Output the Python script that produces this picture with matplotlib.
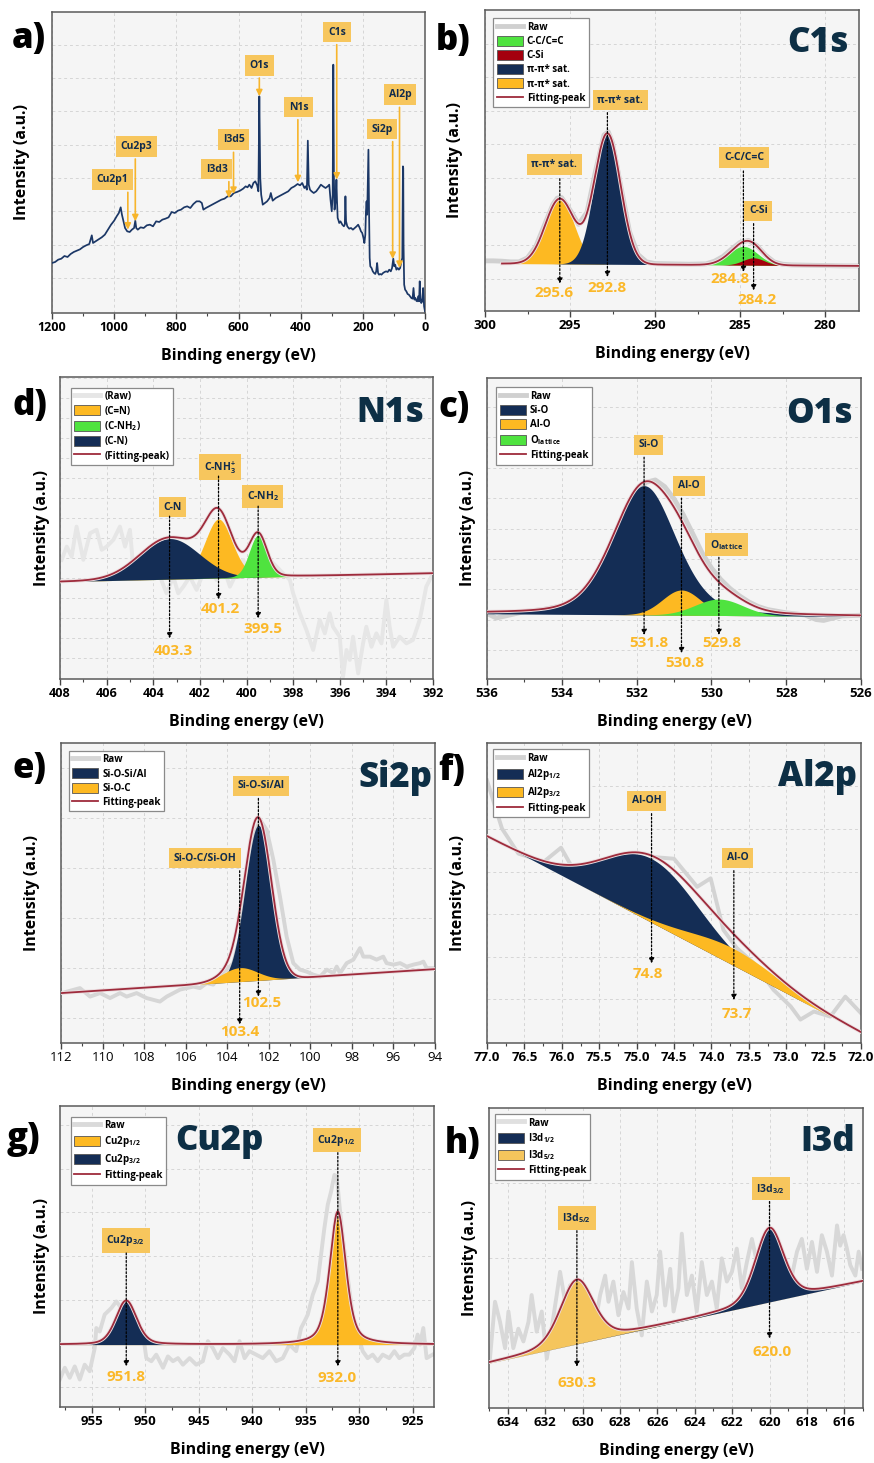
import numpy as np
import matplotlib
matplotlib.use('Agg')
import matplotlib.pyplot as plt
from matplotlib.lines import Line2D
from matplotlib.patches import Patch
from matplotlib.ticker import MultipleLocator, FormatStrFormatter
import matplotlib.patheffects as pe

plt.rcParams['font.family'] = ['Open Sans', 'DejaVu Sans']
plt.rcParams['mathtext.fontset'] = 'custom'
plt.rcParams['mathtext.rm'] = 'Open Sans'
plt.rcParams['mathtext.bf'] = 'Open Sans:bold'
plt.rcParams['mathtext.it'] = 'Open Sans:italic'

W, H = 874, 1463

NAVY = '#142d55'
YELLOW = '#fdb922'
LIGHT_YELLOW = '#f5c55c'
GREEN = '#4fe33f'
RED = '#a4000e'
FIT = '#9e2b3c'
BOX = '#f7c65d'
BOX_TEXT = '#102b4c'
VALUE = '#fbb829'
TITLE = '#0d2f45'
SURVEY = '#1b3766'

# ---------------- (a) survey spectrum ----------------
survey_be = [1200, 1190, 1180, 1170, 1160, 1150, 1140, 1130, 1120, 1110,
             1100, 1090, 1080, 1072, 1068, 1060, 1050, 1040, 1030, 1020,
             1010, 1000, 992, 985, 979, 975, 970, 965, 958, 950,
             943, 936, 932, 929, 924, 915, 905, 895, 885, 875,
             865, 855, 845, 835, 825, 815, 805, 795, 785, 775,
             765, 755, 745, 735, 725, 718, 713, 705, 695, 685,
             675, 665, 655, 645, 635, 625, 615, 605, 595, 585,
             577, 571, 565, 558, 552, 546, 540, 536, 533, 530,
             527, 522, 515, 508, 500, 496, 490, 480, 470, 460,
             450, 440, 430, 420, 410, 402, 395, 388, 384, 380,
             377, 374, 370, 365, 358, 350, 342, 335, 328, 320,
             313, 308, 304, 300, 297, 295, 293, 291, 289, 287,
             285, 283, 281, 279, 276, 272, 266, 261, 258, 256,
             254, 250, 244, 238, 232, 226, 220, 215, 210, 206,
             202, 198, 195, 192, 190, 188, 186, 184, 182, 180,
             178, 176, 172, 168, 164, 160, 157, 154, 151, 148,
             144, 140, 135, 130, 125, 120, 115, 110, 106, 102,
             99, 96, 92, 88, 84, 80, 76, 73, 71, 70,
             69, 67, 64, 60, 56, 52, 48, 44, 40, 37,
             34, 31, 28, 25, 22, 19, 17, 15, 12, 9,
             6, 3, 0]
survey_int = [0.45, 0.48, 0.55, 0.58, 0.66, 0.63, 0.72, 0.78, 0.82, 0.86,
              0.93, 0.98, 1.02, 1.28, 1.05, 1.10, 1.16, 1.22, 1.30, 1.45,
              1.60, 1.72, 1.85, 1.95, 2.12, 1.90, 1.70, 1.50, 1.40, 1.38,
              1.45, 1.50, 1.72, 1.50, 1.45, 1.52, 1.50, 1.58, 1.60, 1.55,
              1.70, 1.68, 1.75, 1.78, 1.82, 1.98, 1.95, 2.02, 2.05, 2.12,
              2.15, 2.10, 2.22, 2.30, 2.30, 2.25, 2.05, 2.10, 2.15, 2.20,
              2.25, 2.30, 2.35, 2.38, 2.45, 2.45, 2.55, 2.58, 2.62, 2.68,
              2.75, 2.72, 2.80, 2.70, 2.85, 2.90, 2.78, 2.60, 5.45, 3.00,
              2.50, 2.20, 2.25, 2.30, 2.40, 2.55, 2.32, 2.40, 2.45, 2.50,
              2.55, 2.60, 2.70, 2.75, 2.82, 2.78, 2.85, 2.70, 2.75, 2.65,
              4.12, 2.80, 2.65, 2.60, 2.55, 2.60, 2.70, 2.80, 2.75, 2.70,
              2.75, 2.80, 2.35, 2.00, 2.50, 6.40, 3.00, 2.05, 2.20, 2.40,
              2.95, 2.30, 1.80, 1.75, 1.65, 1.70, 1.60, 1.55, 1.60, 2.45,
              1.70, 1.55, 1.48, 1.50, 1.45, 1.50, 1.55, 1.60, 1.50, 1.40,
              1.35, 1.20, 1.05, 1.30, 2.00, 2.30, 1.90, 2.80, 3.85, 2.00,
              0.60, 0.35, 0.30, 0.20, 0.15, 0.12, 0.20, 0.45, 0.15, 0.10,
              0.12, 0.10, 0.15, 0.18, 0.20, 0.18, 0.25, 0.20, 0.30, 0.58,
              0.35, 0.40, 0.25, 0.30, 0.25, 0.30, 0.50, 0.60, 3.35, 3.30,
              1.00, -0.20, -0.35, -0.40, -0.48, -0.50, -0.55, -0.60, -0.62, -0.30,
              -0.65, -0.60, -0.68, -0.70, -0.55, -0.70, -0.10, -0.60, -0.75, -0.70,
              -0.30, -0.85, -1.00]
survey_labels = ['Cu2p1', 'Cu2p3', 'I3d3', 'I3d5', 'O1s', 'N1s', 'C1s', 'Si2p', 'Al2p']
survey_box_x = [1005, 929, 670, 616, 533, 407, 283, 138, 80]
survey_box_y = [2.95, 3.95, 3.27, 4.15, 6.38, 5.13, 7.38, 4.47, 5.50]
survey_arrow_x = [956, 932, 631, 616, 533, 409, 284, 104, 82]
survey_arrow_tip = [1.45, 1.70, 2.40, 2.52, 5.45, 2.87, 2.95, 0.57, 0.30]

# ---------------- (b) C1s ----------------
b_raw_be = [300, 299.5, 299, 298.5, 298, 297.5, 297, 296.5, 296, 295.75,
            295.5, 295, 294.5, 294, 293.5, 293, 292.75, 292.5, 292, 291.5,
            291, 290.5, 290, 289, 288, 287, 286.5, 286, 285.5, 285,
            284.5, 284, 283.5, 283, 282.5, 282, 281, 280, 279, 278]
b_raw_int = [0.53, 0.53, 0.52, 0.50, 0.50, 0.62, 0.97, 1.60, 2.22, 2.40,
             2.42, 2.05, 1.62, 1.98, 3.20, 4.28, 4.38, 4.05, 2.72, 1.40,
             0.72, 0.50, 0.45, 0.44, 0.43, 0.44, 0.52, 0.66, 0.88, 1.08,
             1.14, 0.98, 0.70, 0.50, 0.43, 0.41, 0.40, 0.39, 0.38, 0.38]
b_range = [299.0, 278.0]
b_base = [0.45, 0.38]
b_centers = [295.6, 292.8, 284.8, 284.2]
b_heights = [1.94, 3.90, 0.56, 0.22]
b_fwhm = [2.0, 1.84, 2.0, 1.5]
b_eta = [0.0, 0.0, 0.0, 0.0]
b_names = ['π-π* sat.', 'π-π* sat.', 'C-C/C=C', 'C-Si']
b_box_x = [295.92, 292.04, 284.76, 283.92]
b_box_y = [3.40, 5.32, 3.61, 2.02]
b_arrow_top = [2.98, 4.95, 3.21, 1.64]
b_arrow_tip = [-0.15, 0.05, 0.20, -0.35]
b_val_x = [295.92, 292.8, 285.6, 284.0]
b_val_y = [-0.42, -0.27, 0.0, -0.65]

# ---------------- (d) N1s ----------------
d_raw_be = [407.93, 407.71, 407.5, 407.29, 407.0, 406.71, 406.43, 406.21, 406.0, 405.71,
            405.43, 405.21, 405.0, 404.86, 404.57, 404.29, 404.0, 403.71, 403.43, 403.14,
            402.93, 402.71, 402.43, 402.14, 401.86, 401.57, 401.29, 401.0, 400.71, 400.43,
            400.14, 399.86, 399.57, 399.29, 399.0, 398.71, 398.43, 398.14, 398.0, 397.71,
            397.43, 397.14, 396.86, 396.64, 396.43, 396.29, 396.0, 395.86, 395.71, 395.57,
            395.43, 395.21, 395.0, 394.86, 394.64, 394.43, 394.21, 394.0, 393.86, 393.71,
            393.43, 393.14, 392.86, 392.57, 392.29, 392.07]
d_raw_int = [4.92, 5.58, 5.08, 6.58, 4.92, 6.25, 6.42, 5.42, 5.58, 5.92,
             6.58, 5.58, 6.42, 4.58, 5.08, 4.25, 4.92, 4.08, 3.25, 4.08,
             3.25, 3.58, 4.08, 3.42, 4.25, 4.92, 3.92, 4.58, 3.58, 4.25,
             4.92, 4.08, 4.75, 4.25, 4.92, 4.58, 4.25, 3.92, 3.25, 2.25,
             1.42, 0.42, 1.92, 1.25, 2.25, 1.58, 1.08, -0.92, 0.42, -0.08,
             1.08, -0.75, 0.75, 1.58, 0.58, 1.25, 0.75, 2.92, 1.58, 0.58,
             1.08, 0.75, 0.92, 1.92, 3.58, 4.08]
d_range = [408.0, 392.0]
d_base = [3.83, 4.25]
d_centers = [401.2, 403.3, 399.5]
d_heights = [2.95, 2.03, 2.10]
d_fwhm = [1.4, 3.0, 0.9]
d_eta = [0.2, 0.0, 0.1]
d_names = ['C-NH$_\\mathbf{3}^\\mathbf{+}$', 'C-N', 'C-NH$_\\mathbf{2}$']
d_box_x = [401.14, 403.17, 399.31]
d_box_y = [9.55, 7.55, 8.08]
d_arrow_top = [9.1, 7.1, 7.6]
d_arrow_tip = [2.95, 1.0, 2.0]
d_val_x = [401.14, 403.14, 399.31]
d_val_y = [2.45, 0.38, 1.45]

# ---------------- (c) O1s ----------------
c_raw_be = [536, 535.75, 535.5, 535, 534.5, 534, 533.75, 533.5, 533.25, 533,
            532.75, 532.5, 532.25, 532, 531.75, 531.5, 531.25, 531, 530.75, 530.5,
            530.25, 530, 529.75, 529.5, 529.25, 529, 528.75, 528.5, 528, 527.5,
            527.2, 527, 526.75, 526.5, 526]
c_raw_int = [1.20, 1.05, 1.12, 1.26, 1.33, 1.45, 1.60, 1.80, 2.15, 2.58,
             3.18, 3.90, 4.62, 5.20, 5.52, 5.60, 5.38, 4.98, 4.45, 3.83,
             3.20, 2.70, 2.32, 2.02, 1.78, 1.58, 1.43, 1.33, 1.22, 1.15,
             1.00, 0.97, 1.05, 1.12, 1.14]
c_range = [536.0, 526.0]
c_base = [1.19, 1.10]
c_centers = [531.8, 530.8, 529.8]
c_heights = [4.26, 0.83, 0.54]
c_fwhm = [2.0, 1.2, 1.5]
c_eta = [0.3, 0.0, 0.0]
c_names = ['Si-O', 'Al-O', 'O$_\\mathbf{lattice}$']
c_box_x = [531.68, 530.6, 529.6]
c_box_y = [6.76, 5.41, 3.46]
c_arrow_top = [6.35, 5.0, 3.05]
c_arrow_tip = [0.49, -0.11, 0.49]
c_val_x = [531.68, 530.71, 529.73]
c_val_y = [0.24, -0.42, 0.22]

# ---------------- (e) Si2p ----------------
e_raw_be = [111.97, 111.09, 110.6, 110.12, 109.64, 109.16, 108.84, 108.36, 107.88, 107.24,
            106.91, 106.59, 106.27, 105.95, 105.63, 105.31, 104.99, 104.67, 104.35, 104.03,
            103.71, 103.38, 103.06, 102.74, 102.42, 102.1, 101.78, 101.46, 101.14, 100.82,
            100.5, 100.18, 99.86, 99.53, 99.21, 98.89, 98.73, 98.57, 98.25, 97.93,
            97.61, 97.45, 97.13, 96.81, 96.49, 96.33, 96.0, 95.68, 95.36, 95.04,
            94.72, 94.56, 94.4, 94.08]
e_raw_int = [0.50, 0.60, 0.43, 0.50, 0.40, 0.50, 0.43, 0.50, 0.40, 0.33,
             0.43, 0.50, 0.57, 0.60, 0.63, 0.60, 0.70, 0.67, 0.87, 0.97,
             1.10, 1.63, 2.77, 3.63, 3.97, 3.77, 3.17, 2.43, 1.63, 1.10,
             0.97, 0.93, 0.87, 0.83, 0.97, 0.90, 1.03, 0.90, 1.10, 1.17,
             1.40, 1.23, 1.23, 1.17, 1.23, 1.10, 1.07, 1.10, 1.03, 1.07,
             1.10, 1.13, 1.00, 1.00]
e_range = [112.0, 94.0]
e_base = [0.50, 0.98]
e_centers = [102.5, 103.4]
e_heights = [3.11, 0.28]
e_fwhm = [1.5, 2.0]
e_eta = [0.0, 0.0]
e_names = ['Si-O-Si/Al', 'Si-O-C/Si-OH']
e_box_x = [102.37, 105.09]
e_box_y = [4.65, 3.20]
e_arrow_top = [4.40, 2.95]
e_arrow_tip = [0.43, -0.13]
e_val_x = [102.34, 103.42]
e_val_y = [0.31, -0.27]

# ---------------- (f) Al2p ----------------
f_raw_be = [77.0, 76.8, 76.58, 76.24, 76.01, 75.84, 75.62, 75.31, 75.0, 74.77,
            74.5, 74.19, 74.01, 73.84, 73.66, 73.43, 73.17, 72.94, 72.81, 72.63,
            72.41, 72.21, 72.0]
f_raw_int = [5.14, 4.01, 3.42, 3.23, 3.56, 3.03, 2.88, 2.64, 3.03, 3.34,
             3.30, 2.64, 2.84, 1.63, 1.20, 0.84, 0.22, -0.17, -0.48, -0.29,
             -0.41, 0.06, -0.33]
f_range = [77.0, 72.0]
f_base = [3.83, -0.78]
f_centers = [74.8, 73.7]
f_heights = [1.50, 0.40]
f_fwhm = [1.5, 1.4]
f_eta = [0.0, 0.0]
f_names = ['Al-OH', 'Al-O']
f_box_x = [74.87, 73.65]
f_box_y = [4.66, 3.32]
f_arrow_top = [4.36, 3.02]
f_arrow_tip = [0.84, -0.02]
f_val_x = [74.85, 73.66]
f_val_y = [0.59, -0.34]

# ---------------- (g) Cu2p ----------------
g_raw_be = [958.02, 957.55, 957.09, 956.62, 956.15, 955.69, 955.22, 954.75, 954.6, 954.28,
            953.82, 953.19, 952.73, 952.26, 951.79, 951.17, 950.55, 950.23, 949.92, 949.45,
            948.99, 948.36, 947.9, 947.43, 946.96, 946.5, 945.87, 945.25, 944.63, 944.16,
            943.69, 943.22, 942.76, 942.13, 941.67, 941.2, 940.73, 940.27, 939.64, 939.02,
            938.4, 937.77, 937.15, 936.53, 935.9, 935.44, 935.12, 934.81, 934.35, 933.88,
            933.57, 933.26, 932.94, 932.63, 932.32, 932.1, 931.85, 931.54, 931.07, 930.61,
            930.14, 929.67, 929.21, 928.74, 928.27, 927.8, 927.18, 926.71, 926.25, 925.78,
            925.31, 924.84, 924.53, 924.31, 924.0, 923.69, 923.13]
g_raw_int = [0.17, 0.44, 0.21, 0.47, 0.17, 0.51, 0.36, 0.89, 1.35, 1.27,
             1.66, 1.81, 1.96, 1.81, 1.96, 1.66, 1.35, 1.20, 0.66, 0.59,
             0.74, 0.44, 0.70, 0.59, 0.66, 0.51, 0.66, 0.51, 0.59, 1.05,
             0.89, 0.66, 0.89, 0.74, 0.59, 1.05, 0.66, 0.82, 0.74, 0.66,
             0.82, 0.59, 0.66, 0.97, 0.82, 1.35, 1.50, 1.66, 2.11, 2.42,
             3.03, 3.64, 4.18, 4.48, 4.86, 4.82, 4.18, 3.41, 2.50, 1.66,
             1.20, 0.82, 0.66, 0.74, 0.59, 0.74, 0.66, 0.82, 0.66, 0.74,
             0.74, 0.89, 1.20, 0.97, 1.35, 0.66, 0.74]
g_range = [958.0, 923.0]
g_base = [0.97, 0.97]
g_centers = [932.0, 951.8]
g_heights = [3.05, 1.01]
g_fwhm = [1.8, 2.3]
g_eta = [0.5, 0.3]
g_names = ['Cu2p$_\\mathbf{1/2}$', 'Cu2p$_\\mathbf{3/2}$']
g_box_x = [932.1, 951.85]
g_box_y = [5.66, 3.36]
g_arrow_top = [5.37, 3.07]
g_arrow_tip = [0.47, 0.47]
g_val_x = [932.1, 951.85]
g_val_y = [0.20, 0.22]

# ---------------- (h) I3d ----------------
h_raw_be = [634.95, 634.68, 634.41, 634.14, 633.96, 633.7, 633.43, 633.16, 632.89, 632.72,
            632.45, 632.18, 631.91, 631.65, 631.38, 631.2, 630.93, 630.66, 630.4, 630.13,
            629.86, 629.59, 629.33, 629.06, 628.79, 628.61, 628.35, 628.08, 627.81, 627.54,
            627.36, 627.1, 626.83, 626.56, 626.29, 626.03, 625.85, 625.58, 625.31, 625.13,
            624.87, 624.69, 624.42, 624.15, 623.89, 623.62, 623.35, 623.08, 622.82, 622.55,
            622.28, 622.01, 621.75, 621.48, 621.21, 620.94, 620.68, 620.41, 620.14, 619.87,
            619.6, 619.34, 619.07, 618.8, 618.53, 618.27, 618.0, 617.73, 617.46, 617.2,
            616.93, 616.66, 616.39, 616.22, 616.04, 615.86, 615.68, 615.41, 615.23, 615.05]
h_raw_int = [-0.35, 0.41, 0.14, -0.21, 0.28, -0.21, 0.05, -0.12, 0.14, 0.50,
             0.01, 0.28, -0.35, 0.05, 0.50, 0.81, 0.41, 0.63, 0.50, 0.32,
             0.05, 0.32, 0.10, 0.50, 0.76, 0.41, 0.68, 0.23, 0.54, 0.32,
             0.94, 0.32, -0.04, 0.68, 0.28, 0.50, 1.08, 0.36, 0.85, 0.28,
             0.59, 1.32, 0.50, 0.76, 0.28, 0.94, 0.50, 0.68, 0.32, 0.99,
             0.68, 0.81, 1.12, 0.59, 0.94, 1.25, 0.94, 1.08, 0.68, 1.12,
             0.81, 1.08, 0.85, 0.76, 1.08, 1.25, 0.85, 1.21, 0.81, 1.30,
             1.08, 0.76, 1.43, 1.16, 1.30, 1.12, 0.90, 0.76, 1.08, 0.85]
h_range = [635.0, 615.0]
h_base = [-0.41, 0.68]
h_centers = [630.3, 620.0]
h_heights = [0.86, 0.99]
h_fwhm = [2.1, 1.8]
h_eta = [0.3, 0.3]
h_names = ['I3d$_\\mathbf{5/2}$', 'I3d$_\\mathbf{3/2}$']
h_box_x = [630.31, 619.93]
h_box_y = [1.53, 1.92]
h_arrow_top = [1.36, 1.75]
h_arrow_tip = [-0.46, -0.08]
h_val_x = [630.31, 619.85]
h_val_y = [-0.67, -0.26]


def pseudo_voigt(x, center, height, fwhm, eta):
    sigma = fwhm / 2.3548
    gauss = np.exp(-(x - center) ** 2 / (2 * sigma ** 2))
    lorentz = 1.0 / (1.0 + ((x - center) / (fwhm / 2)) ** 2)
    return height * ((1 - eta) * gauss + eta * lorentz)


def make_axes(fig, box, xlim, ylim, major, minor, ygrid, tick_size=9.5,
              tick_weight='bold', fmt=None, ylab_gap=30):
    l, t, r, b = box
    w, h = r - l, b - t
    ax = fig.add_axes([l / W, 1 - b / H, w / W, h / H])
    ax.set_facecolor('#f5f5f5')
    ax.set_xlim(*xlim)
    ax.set_ylim(*ylim)
    ax.xaxis.set_major_locator(MultipleLocator(major))
    ax.xaxis.set_minor_locator(MultipleLocator(minor))
    if fmt:
        ax.xaxis.set_major_formatter(FormatStrFormatter(fmt))
    ax.set_yticks(ygrid)
    ax.set_yticklabels([])
    ax.tick_params(axis='y', length=0)
    ax.tick_params(axis='x', which='major', direction='out', length=4,
                   width=1, color='#444444', labelsize=tick_size, pad=2)
    ax.tick_params(axis='x', which='minor', direction='out', length=2.5,
                   width=0.8, color='#444444')
    for tk in ax.xaxis.get_major_ticks():
        tk.label1.set_fontweight(tick_weight)
    ax.grid(True, which='major', color='#d6d6d6', linestyle=(0, (3, 3)),
            linewidth=0.7)
    ax.set_axisbelow(True)
    for s in ax.spines.values():
        s.set_color('#5a5a5a')
        s.set_linewidth(1.1)
    ax.set_xlabel('Binding energy (eV)', fontsize=11.5, fontweight='bold')
    ax.xaxis.set_label_coords(0.5, -35 / h)
    ax.set_ylabel('Intensity (a.u.)', fontsize=11.5, fontweight='bold')
    ax.yaxis.set_label_coords(-(ylab_gap - 8) / w, 0.5)
    return ax


def draw_fit(ax, xr, base_ends, centers, heights, fwhms, etas, colors):
    x = np.linspace(xr[0], xr[1], 900)
    base = base_ends[0] + (base_ends[1] - base_ends[0]) * (x - xr[0]) / (xr[1] - xr[0])
    total = base.copy()
    for i, (c, hgt, fw, et, col) in enumerate(zip(centers, heights, fwhms, etas, colors)):
        comp = pseudo_voigt(x, c, hgt, fw, et)
        ax.fill_between(x, base, base + comp, color=col, lw=0, zorder=2 + i * 0.1)
        total = total + comp
    ax.plot(x, total, color=FIT, lw=1.3, zorder=5,
            path_effects=[pe.Stroke(linewidth=2.6, foreground='#ecdfe1'), pe.Normal()])


def draw_raw(ax, be, inten, color='#d3d3d3', lw=3.0):
    ax.plot(be, inten, color=color, lw=lw, solid_joinstyle='round', zorder=1.5)


def mark_peaks(ax, names, box_x, box_y, centers, tops, tips, val_x, val_y):
    for n, bx, by, c, top, tip, vx, vy in zip(names, box_x, box_y, centers, tops,
                                              tips, val_x, val_y):
        ax.text(bx, by, n, ha='center', va='center', fontsize=7.5, fontweight='bold',
                color=BOX_TEXT, zorder=8,
                bbox=dict(boxstyle='square,pad=0.45', fc=BOX, ec='none'))
        ax.annotate('', xy=(c, tip), xytext=(c, top), zorder=8,
                    arrowprops=dict(arrowstyle='-|>', color='k', lw=0.9,
                                    linestyle=(0, (1.5, 1.5)), mutation_scale=8,
                                    shrinkA=0, shrinkB=0))
        ax.text(vx, vy, f'{c:.1f}', ha='center', va='center', fontsize=11,
                fontweight='bold', color=VALUE, zorder=8)


def add_legend(ax, handles, labels, pad):
    leg = ax.legend(handles, labels, loc='upper left', prop=dict(weight='bold', size=7),
                    frameon=True, fancybox=False, edgecolor='#8a8a8a', facecolor='white',
                    framealpha=1, handlelength=2.7, handleheight=1.2, labelspacing=0.3,
                    handletextpad=0.4, borderpad=0.35, borderaxespad=pad)
    leg.get_frame().set_linewidth(0.9)
    leg.set_zorder(9)


def raw_handle(color='#d3d3d3'):
    return Line2D([], [], color=color, lw=3.5)


def patch(color):
    return Patch(fc=color, ec='#555555', lw=0.6)


def fit_handle():
    return Line2D([], [], color=FIT, lw=1.3)


def title(ax, text, x_px, base_px, box, ha='right'):
    l, t, r, b = box
    w, h = r - l, b - t
    if ha == 'right':
        xf = 1 - x_px / w
    else:
        xf = x_px / w
    ax.text(xf, 1 - base_px / h, text, transform=ax.transAxes, ha=ha, va='baseline',
            fontsize=25, fontweight='heavy', color=TITLE, zorder=9)


fig = plt.figure(figsize=(W / 100, H / 100), dpi=100)
fig.patch.set_facecolor('white')

# ---- (a)
box_a = (52, 12, 425, 313)
ax = make_axes(fig, box_a, (1200, 0), (-1.05, 7.98), 200, 100, range(0, 8),
               tick_size=9, ylab_gap=30)
ax.plot(survey_be, survey_int, color=SURVEY, lw=1.25, zorder=3)
for lab, bx, by, axx, tip in zip(survey_labels, survey_box_x, survey_box_y,
                                 survey_arrow_x, survey_arrow_tip):
    ax.text(bx, by, lab, ha='center', va='center', fontsize=7.5, fontweight='bold',
            color=BOX_TEXT, zorder=8,
            bbox=dict(boxstyle='square,pad=0.45', fc=BOX, ec='none'))
    ax.annotate('', xy=(axx, tip), xytext=(axx, by - 0.38), zorder=7,
                arrowprops=dict(arrowstyle='-|>', color='#f7b52c', lw=1.2,
                                mutation_scale=9, shrinkA=0, shrinkB=0))

# ---- (b)
box_b = (485, 10, 859, 311)
ax = make_axes(fig, box_b, (300, 278), (-0.965, 8.01), 5, 2.5, range(0, 8), ylab_gap=30)
draw_raw(ax, b_raw_be, b_raw_int, color='#d0d0d0', lw=3.5)
draw_fit(ax, b_range, b_base, b_centers, b_heights, b_fwhm, b_eta,
         [YELLOW, NAVY, GREEN, RED])
mark_peaks(ax, b_names, b_box_x, b_box_y, b_centers, b_arrow_top, b_arrow_tip,
           b_val_x, b_val_y)
add_legend(ax, [raw_handle('#d0d0d0'), patch(GREEN), patch(RED), patch(NAVY), patch(YELLOW),
                fit_handle()],
           ['Raw', 'C-C/C=C', 'C-Si', 'π-π* sat.', 'π-π* sat.', 'Fitting-peak'], 0.85)
title(ax, 'C1s', 10, 42, box_b)

# ---- (d)
box_d = (60, 377, 433, 679)
ax = make_axes(fig, box_d, (408, 392), (-1.03, 14.05), 2, 1, range(0, 15), tick_size=9,
               ylab_gap=18)
draw_raw(ax, d_raw_be, d_raw_int, color='#e6e6e6', lw=2.8)
draw_fit(ax, d_range, d_base, d_centers, d_heights, d_fwhm, d_eta, [YELLOW, NAVY, GREEN])
mark_peaks(ax, d_names, d_box_x, d_box_y, d_centers, d_arrow_top, d_arrow_tip,
           d_val_x, d_val_y)
add_legend(ax, [raw_handle('#e6e6e6'), patch(YELLOW), patch(GREEN), patch(NAVY), fit_handle()],
           ['(Raw)', '(C=N)', '(C-NH$_\\mathbf{2}$)', '(C-N)', '(Fitting-peak)'], 1.1)
title(ax, 'N1s', 9, 45, box_d)

# ---- (c)
box_c = (487, 378, 861, 679)
ax = make_axes(fig, box_c, (536, 526), (-0.96, 8.96), 2, 1, range(0, 9), ylab_gap=19)
draw_raw(ax, c_raw_be, c_raw_int, color='#d0d0d0', lw=3.5)
draw_fit(ax, c_range, c_base, c_centers, c_heights, c_fwhm, c_eta, [NAVY, YELLOW, GREEN])
mark_peaks(ax, c_names, c_box_x, c_box_y, c_centers, c_arrow_top, c_arrow_tip,
           c_val_x, c_val_y)
add_legend(ax, [raw_handle('#d0d0d0'), patch(NAVY), patch(YELLOW), patch(GREEN), fit_handle()],
           ['Raw', 'Si-O', 'Al-O', 'O$_\\mathbf{lattice}$', 'Fitting-peak'], 0.95)
title(ax, 'O1s', 8, 45, box_c)

# ---- (e)
box_e = (61, 743, 435, 1043)
ax = make_axes(fig, box_e, (112, 94), (-0.5, 5.51), 2, 1, range(0, 6),
               tick_weight='normal', ylab_gap=29)
draw_raw(ax, e_raw_be, e_raw_int, color='#d6d6d6', lw=2.8)
draw_fit(ax, e_range, e_base, e_centers, e_heights, e_fwhm, e_eta, [NAVY, YELLOW])
mark_peaks(ax, e_names, e_box_x, e_box_y, e_centers, e_arrow_top, e_arrow_tip,
           e_val_x, e_val_y)
add_legend(ax, [raw_handle('#d6d6d6'), patch(NAVY), patch(YELLOW), fit_handle()],
           ['Raw', 'Si-O-Si/Al', 'Si-O-C', 'Fitting-peak'], 0.8)
title(ax, 'Si2p', 3, 44, box_e)

# ---- (f)
box_f = (487, 743, 861, 1043)
ax = make_axes(fig, box_f, (77, 72), (-1.03, 6.02), 0.5, 0.25, range(0, 6),
               fmt='%.1f', ylab_gap=29)
draw_raw(ax, f_raw_be, f_raw_int, color='#d3d3d3', lw=2.8)
draw_fit(ax, f_range, f_base, f_centers, f_heights, f_fwhm, f_eta, [NAVY, YELLOW])
mark_peaks(ax, f_names, f_box_x, f_box_y, f_centers, f_arrow_top, f_arrow_tip,
           f_val_x, f_val_y)
add_legend(ax, [raw_handle('#d3d3d3'), patch(NAVY), patch(YELLOW), fit_handle()],
           ['Raw', 'Al2p$_\\mathbf{1/2}$', 'Al2p$_\\mathbf{3/2}$', 'Fitting-peak'], 0.65)
title(ax, 'Al2p', 4, 43, box_f)

# ---- (g)
box_g = (60, 1106, 434, 1407)
ax = make_axes(fig, box_g, (958, 923), (-0.46, 6.44), 5, 2.5, range(0, 7), ylab_gap=18)
draw_raw(ax, g_raw_be, g_raw_int, color='#dadada', lw=2.8)
draw_fit(ax, g_range, g_base, g_centers, g_heights, g_fwhm, g_eta, [YELLOW, NAVY])
mark_peaks(ax, g_names, g_box_x, g_box_y, g_centers, g_arrow_top, g_arrow_tip,
           g_val_x, g_val_y)
add_legend(ax, [raw_handle('#dadada'), patch(YELLOW), patch(NAVY), fit_handle()],
           ['Raw', 'Cu2p$_\\mathbf{1/2}$', 'Cu2p$_\\mathbf{3/2}$', 'Fitting-peak'], 1.1)
title(ax, 'Cu2p', 115, 44, box_g, ha='left')

# ---- (h)
box_h = (489, 1108, 863, 1408)
ax = make_axes(fig, box_h, (635, 615), (-1.01, 3.0), 2, 1, range(0, 3), ylab_gap=19)
draw_raw(ax, h_raw_be, h_raw_int, color='#d8d8d8', lw=2.8)
draw_fit(ax, h_range, h_base, h_centers, h_heights, h_fwhm, h_eta, [LIGHT_YELLOW, NAVY])
mark_peaks(ax, h_names, h_box_x, h_box_y, h_centers, h_arrow_top, h_arrow_tip,
           h_val_x, h_val_y)
add_legend(ax, [raw_handle('#e0e0e0'), patch(NAVY), patch(LIGHT_YELLOW), fit_handle()],
           ['Raw', 'I3d$_\\mathbf{1/2}$', 'I3d$_\\mathbf{5/2}$', 'Fitting-peak'], 0.6)
title(ax, 'I3d', 8, 43, box_h)

# ---- panel letters
letters = ['a)', 'b)', 'd)', 'c)', 'e)', 'f)', 'g)', 'h)']
letter_x = [12, 436, 12, 438, 12, 438, 7, 445]
letter_base = [48, 50, 415, 417, 778, 780, 1148, 1153]
for s, lx, ly in zip(letters, letter_x, letter_base):
    fig.text(lx / W, 1 - ly / H, s, ha='left', va='baseline', fontsize=25,
             fontweight='heavy', color='black')

fig.savefig('out.png', dpi=100, facecolor='white')
